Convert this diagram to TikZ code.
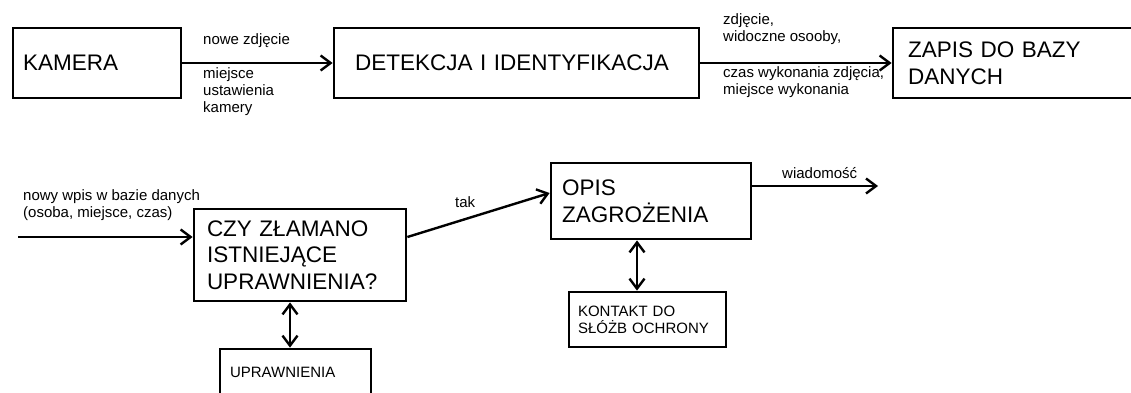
\documentclass[tikz,border=0pt]{standalone}
\usepackage{fontspec}
\setmainfont{Liberation Sans}
\usetikzlibrary{arrows.meta}
\begin{document}
\begin{tikzpicture}[x=1pt,y=-1pt,
  bigtxt/.style={font=\fontsize{22.5}{26.5}\selectfont},
  smalltxt/.style={font=\fontsize{15}{17}\selectfont},
  box/.style={draw, line width=2.8pt, rectangle, inner ysep=0pt, align=left},
  lbl/.style={smalltxt, inner sep=0pt, anchor=west, align=left},
  arr/.style={line width=2.4pt, -{Straight Barb[length=10pt,width=15pt]}},
  dbl/.style={line width=2.4pt, {Straight Barb[length=10pt,width=15pt]}-{Straight Barb[length=10pt,width=15pt]}}]
\useasboundingbox (0,0) rectangle (1131,392);
\clip (0,0) rectangle (1131,392);

% top row
\node[box, bigtxt, minimum width=168pt, minimum height=70pt, inner xsep=10pt, text width=148pt] (kam) at (97,63) {KAMERA};
\node[box, bigtxt, minimum width=365pt, minimum height=70pt, inner xsep=21pt, text width=323pt] (det) at (516.5,63) {DETEKCJA I IDENTYFIKACJA};
\node[box, bigtxt, minimum width=257pt, minimum height=70pt, inner xsep=15pt, text width=227pt] (zap) at (1021.5,63) {ZAPIS DO BAZY\\DANYCH};

% bottom row
\node[box, bigtxt, minimum width=212pt, minimum height=92pt, inner xsep=13pt, text width=186pt] (czy) at (300,255) {CZY ZŁAMANO\\ISTNIEJĄCE\\UPRAWNIENIA?};
\node[box, smalltxt, minimum width=151pt, minimum height=47pt, inner xsep=10pt, text width=131pt] (upr) at (295.5,372.5) {UPRAWNIENIA};
\node[box, bigtxt, minimum width=200pt, minimum height=76pt, inner xsep=11pt, text width=178pt] (opis) at (651,201) {OPIS\\ZAGROŻENIA};
\node[box, smalltxt, minimum width=157pt, minimum height=55pt, inner xsep=9pt, text width=139pt] (kon) at (647.5,319.5) {KONTAKT DO\\SŁÓŻB OCHRONY};

% labels
\node[lbl] (l1) at (203,41) {nowe zdjęcie};
\node[lbl] (l2) at (203,92) {miejsce\\ustawienia\\kamery};
\node[lbl] (l3) at (723,29) {zdjęcie,\\widoczne osooby,};
\node[lbl] (l4) at (723,82.5) {czas wykonania zdjęcia,\\miejsce wykonania};
\node[lbl] (l5) at (23,205) {nowy wpis w bazie danych\\(osoba, miejsce, czas)};
\node[lbl] (l6) at (455,202) {tak};
\node[lbl] (l7) at (782,173) {wiadomość};

% free ends
\coordinate (inS) at (18,237);
\coordinate (outE) at (878,186);

% connectors
\draw[arr] (kam.east) -- (det.west);
\draw[arr] (det.east) -- (zap.west);
\draw[arr] (inS) -- (inS -| czy.west);
\draw[arr] (czy.east |- inS) -- ([yshift=8pt]opis.west);
\draw[arr] ([yshift=15pt]opis.east) -- (outE);
\draw[dbl] (czy.south -| 290,0) -- (upr.north -| 290,0);
\draw[dbl] (opis.south -| 637,0) -- (kon.north -| 637,0);
\end{tikzpicture}
\end{document}
